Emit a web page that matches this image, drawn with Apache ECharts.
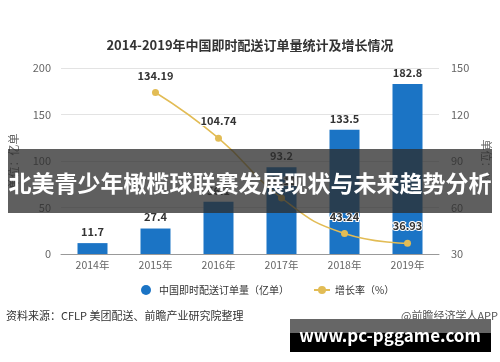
<!DOCTYPE html>
<html><head><meta charset="utf-8">
<script src="https://cdn.jsdelivr.net/npm/echarts@6/dist/echarts.min.js"></script>
<style>html,body{margin:0;padding:0;background:#fff}#c{width:500px;height:362px}</style>
</head><body><div id="c"></div>
<script>
const categories = ['2014年','2015年','2016年','2017年','2018年','2019年'];
const orders = [11.7, 27.4, 56.1, 93.2, 133.5, 182.8];
const growth = [null, 134.19, 104.74, 66.13, 43.24, 36.93];
const leftTicks = [0, 200, 50];
const rightTicks = [30, 150, 30];
const titleText = '2014-2019年中国即时配送订单量统计及增长情况';
const bannerText = '北美青少年橄榄球联赛发展现状与未来趋势分析';
const siteText = 'www.pc-pggame.com';
const sourceText = '资料来源：CFLP 美团配送、前瞻产业研究院整理';
const creditText = '@前瞻经济学人APP';

const F = '"Noto Sans CJK SC", "Noto Sans", sans-serif';
const chart = echarts.init(document.getElementById('c'));
chart.setOption({
  animation: false,
  textStyle: {fontFamily: F},
  title: {text: titleText, left: 'center', top: 34,
    textStyle: {fontSize: 13, fontWeight: 'bold', color: '#333', fontFamily: F}},
  grid: {left: 56, right: 55, top: 68, bottom: 108},
  legend: {bottom: 62, left: 136, itemGap: 24, itemWidth: 16, itemHeight: 10,
    textStyle: {fontSize: 10, color: '#333', fontFamily: F},
    data: [{name: '中国即时配送订单量（亿单）', icon: 'circle'}, {name: '增长率（%）'}]},
  xAxis: {type: 'category', data: categories,
    axisLine: {lineStyle: {color: '#999'}}, axisTick: {show: false},
    axisLabel: {color: '#666', fontSize: 10.5, margin: 6}},
  yAxis: [
    {type: 'value', min: leftTicks[0], max: leftTicks[1], interval: leftTicks[2],
     name: '单位：亿单', nameLocation: 'middle', nameGap: 42, nameRotate: 90,
     nameTextStyle: {color: '#666', fontSize: 11},
     axisLine: {show: false}, axisTick: {show: false},
     axisLabel: {color: '#666', fontSize: 11, margin: 10},
     splitLine: {lineStyle: {color: '#e3e3e3'}}},
    {type: 'value', min: rightTicks[0], max: rightTicks[1], interval: rightTicks[2],
     name: '单位：%', nameLocation: 'middle', nameGap: 42, nameRotate: -90,
     nameTextStyle: {color: '#666', fontSize: 11},
     axisLine: {show: false}, axisTick: {show: false},
     axisLabel: {color: '#666', fontSize: 11, margin: 12},
     splitLine: {show: false}}
  ],
  series: [
    {name: '中国即时配送订单量（亿单）', type: 'bar', data: orders, barWidth: 30,
     itemStyle: {color: '#1b74c5'},
     label: {show: true, position: 'top', color: '#333', fontWeight: 'bold', fontSize: 11, distance: 6}},
    {name: '增长率（%）', type: 'line', yAxisIndex: 1, data: growth, smooth: true,
     symbol: 'circle', symbolSize: 7, lineStyle: {color: '#e2bc55', width: 1.5},
     itemStyle: {color: '#e2bc55'},
     label: {show: true, position: 'top', color: '#333', fontWeight: 'bold', fontSize: 11, distance: 8,
       textBorderColor: '#fff', textBorderWidth: 2}}
  ],
  graphic: [
    {type: 'text', z: 100, left: 6, top: 310, style: {text: sourceText, fill: '#333', font: '11px ' + F}},
    {type: 'text', z: 100, right: 2, top: 310, style: {text: creditText, fill: '#555', font: '11px ' + F}},
    {type: 'rect', z: 100, shape: {x: 8, y: 149, width: 484, height: 64}, style: {fill: 'rgba(45,45,45,0.76)'}},
    {type: 'text', z: 101, x: 250, y: 183, style: {text: bannerText, fill: '#fff', align: 'center', verticalAlign: 'middle',
      font: 'bold 23px ' + F}},
    {type: 'rect', z: 100, shape: {x: 290, y: 319, width: 201, height: 14}, style: {fill: '#666'}},
    {type: 'rect', z: 100, shape: {x: 290, y: 333, width: 201, height: 19}, style: {fill: '#000'}},
    {type: 'text', z: 101, x: 390, y: 336, style: {text: siteText, fill: '#fff', align: 'center', verticalAlign: 'middle',
      font: 'bold 17px ' + F}}
  ]
});
</script></body></html>
